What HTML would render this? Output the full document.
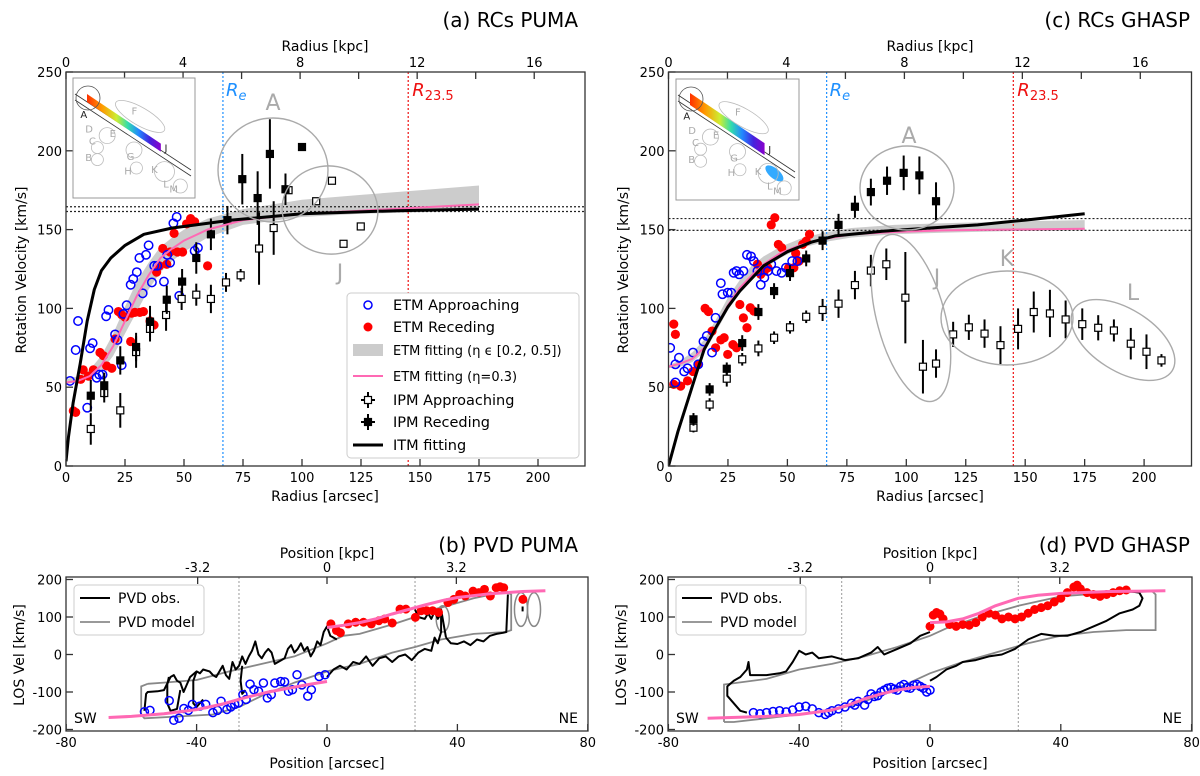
<!DOCTYPE html>
<html><head><meta charset="utf-8"><style>
html,body{margin:0;padding:0;background:#fff;}
svg{display:block;font-family:"DejaVu Sans","Liberation Sans",sans-serif;}
</style></head><body>
<svg id="fig" width="1200" height="776" viewBox="0 0 1200 776" xmlns="http://www.w3.org/2000/svg">
<defs>
<linearGradient id="rb" x1="0" y1="0" x2="1" y2="0">
<stop offset="0" stop-color="#ff3000"/><stop offset="0.2" stop-color="#ff9900"/><stop offset="0.4" stop-color="#ccee33"/><stop offset="0.55" stop-color="#33ddaa"/><stop offset="0.7" stop-color="#2288ff"/><stop offset="0.85" stop-color="#4422dd"/><stop offset="1" stop-color="#8800cc"/>
</linearGradient>
</defs>
<g id="layer"></g>
<text x="578" y="27" font-size="20" text-anchor="end">(a) RCs PUMA</text>
<text x="1190" y="27" font-size="20" text-anchor="end">(c) RCs GHASP</text>
<text x="578" y="552" font-size="20" text-anchor="end">(b) PVD PUMA</text>
<text x="1190" y="552" font-size="20" text-anchor="end">(d) PVD GHASP</text>
<text x="325" y="51" font-size="14" text-anchor="middle">Radius [kpc]</text>
<text x="930" y="51" font-size="14" text-anchor="middle">Radius [kpc]</text>
<text x="325" y="501" font-size="14" text-anchor="middle">Radius [arcsec]</text>
<text x="930" y="501" font-size="14" text-anchor="middle">Radius [arcsec]</text>
<text transform="translate(26,270) rotate(-90)" font-size="14" text-anchor="middle">Rotation Velocity [km/s]</text>
<text transform="translate(628,270) rotate(-90)" font-size="14" text-anchor="middle">Rotation Velocity [km/s]</text>
<text x="327" y="558" font-size="14" text-anchor="middle">Position [kpc]</text>
<text x="930" y="558" font-size="14" text-anchor="middle">Position [kpc]</text>
<text x="327" y="768" font-size="14" text-anchor="middle">Position [arcsec]</text>
<text x="930" y="768" font-size="14" text-anchor="middle">Position [arcsec]</text>
<text transform="translate(24,655) rotate(-90)" font-size="14" text-anchor="middle">LOS Vel [km/s]</text>
<text transform="translate(626,655) rotate(-90)" font-size="14" text-anchor="middle">LOS Vel [km/s]</text>
</svg>
<script>
// ---------- Panel (a) data ----------
const aRecR=[10.5,16.2,23,29.7,35.6,42.7,49.2,55.2,61.4,68.4,74.7,81.2,86.4,93,100];
const aRecV=[44.6,51.2,67,75.5,91.6,105.5,117,132,147,156,182,170,198,175.6,202.4];
const aRecE=[10,8,9,9,10,9,8,10,10,9,16,17,22,10,0];
const aAppR=[10.5,16.2,23,29.7,35.6,42.4,49,55.2,61.4,67.8,74,81.8,88,94.3,106,112.7,117.6,124.9];
const aAppV=[23.5,46.3,35.3,72.3,87,95.8,106,108.7,106,116.5,121,138,151,175,168,181,141,152];
const aAppE=[10,6,11,10,8,10,7,7,9,6,4,23,17,0,0,0,0,0];
const aEtmAppR=[1.7,4.1,5.1,9.0,10.2,11.3,13,14.1,15.5,17,18,20.8,21.8,23.6,24.3,25.7,27.4,28.5,30,31.1,32.5,33.9,35,36.4,37.4,38.7,41.5,42.9,44.1,45.5,46.9,48,54.5,55.9];
const aEtmAppV=[54,73.6,92,37,74.7,78,56,58,58,95,99,83.5,80,64,96.5,102,115,118.7,123,132,109.6,134,140,116.5,127,127,117,134,129,154,158,108,136.5,138.5];
const aEtmRecR=[3.1,4.1,6.2,7.3,9.5,11.6,14.4,15.8,17.2,19.4,20.8,22.2,23.6,25,27.4,27.8,29.2,31.3,32.8,35.6,37.3,38.4,39.6,41,42.7,44.1,45.8,47.2,49.4,51.1,52.8,54.5,60];
const aEtmRecV=[35,34,55,61,57,61,72,70,63.5,62,80.6,98,96,94.5,79,97,97.5,97.5,98,92,89.5,123,127,138,128,135.8,147.6,135.8,135.8,153.6,157,155,127];
const aItmR=[0,1,3,6,9,12,15,19,25,33,45,55,70,100,140,175];
const aItmV=[3,18,40,65,92,112,124,132,140,147,151,153,156,160,162,163];
const aFitR=[0,5,10,15,20,25,30,35,40,45,50,60,75,100,125,150,175];
const aFitV=[53,54,57,64,76,92,108,121,132,138,143,150,156,160,162,164,166];
const aBandHi=[55,57,61,70,84,101,117,129,139,145,150,157,163,169,172,175,178];
const aBandLo=[52,53,55,60,70,84,98,112,123,130,136,145,153,158,160,161,162];
const aHLines=[164.5,161.5];
// ---------- Panel (c) data ----------
const cRecR=[10.5,17.3,24.5,31,37.8,44.4,51.1,57.9,64.8,71.5,78.4,85.1,91.9,98.9,105.5,112.5];
const cRecV=[29.6,48.6,61.7,78,97.7,111,122.4,131.7,143,153,164.5,173.8,181,186,184.4,168];
const cRecE=[4,4,4,5,5,5,5,5,6,7,7,8.5,9,11,12,12];
const cAppR=[10.5,17.3,24.5,31,37.8,44.4,51.1,57.9,64.8,71.5,78.4,85.1,91.6,99.6,107,112.5,119.7,126.3,132.9,139.6,147,153.6,160.4,167,174,180.7,187.3,194.4,201,207.3];
const cAppV=[24.3,39,55.4,67.7,74.6,81.4,88,94.7,99,103,114.8,124,128,106.8,63,65,83.5,88,84,76.7,87,97.7,96.8,93,90,87.7,86,77.6,72.5,67];
const cAppE=[3,4,5,4,5,4,4,4,7,9,9,10,10,29,17,9,8,8,9,12,13,13,15,12,10,8,7,10,11,4];
const cEtmAppR=[0.7,2.9,4.4,6.6,8,10.3,12.5,14.7,16.1,18.3,19.8,22,22.7,24.9,26.4,27.4,28.6,29.7,31.5,33,34.7,35.9,37.4,38.8,40.3,41.8,43.2,45.4,47.6,49.4,52,54.2,2.9];
const cEtmAppV=[75,64.5,68.7,60,62,72,64.5,79,82.5,72,94,116,109,110,110,122.6,123.7,121.6,123.7,134,133,130,123.7,115,119.5,123.7,128,123.7,122.6,125.8,130,130,53];
const cEtmRecR=[2.2,2.9,2.2,5.1,8,10.3,12.5,15.4,16.8,18.3,19.8,22,23.4,24.9,27.1,28.6,30,31.5,33,34.4,35.9,37.4,38.8,40.3,41.8,43.2,44.7,46.2,47.6,50.5,52.7,54.9,56.4,57.9,59.3,53.5];
const cEtmRecV=[90,83.5,51.8,50.7,54,60,64.5,100,98,85.6,75,80,81.4,70.8,77,75,102.5,94,87.7,100.4,98.3,128,121.6,123.7,125.8,153,157.5,140.6,138.5,125.8,125.8,130,140.6,142.7,147,135];
const cItmR=[0,4,8,12,15,20,25,30,40,50,60,70,90,110,130,150,175];
const cItmV=[0,22,41,60,74,88,101,111,127,136,142,146,149,151,153,156,160];
const cFitR=[0,5,10,15,20,25,30,35,40,47,55,65,77,95,115,140,175];
const cFitV=[63,65,68,75,88,102,113,121,128,135,140,144,147,148.5,149.5,150,150.5];
const cBandHi=[64,67,72,80,93,107,118,127,133,139,144,148,151,153,154,155,156];
const cBandLo=[62,63,66,72,85,99,110,118,125,132,138,142,145,147,148,149,149.5];
const cHLines=[157,149.5];
// ---------- Panel (b) data ----------
const bAppP=[-56,-54.3,-48.4,-47,-45.4,-43.9,-42.5,-41.3,-39,-37.2,-35,-33.6,-32.5,-30.7,-29.5,-28.3,-27.1,-25.8,-24.8,-23.6,-22.4,-21,-19.5,-18.3,-17.1,-16,-14.2,-13,-11.8,-10.6,-9.2,-7.7,-5.9,-4.8,-2.4,-0.6];
const bAppV=[-152.6,-149,-123,-175.4,-170,-144,-149,-133,-137.7,-133,-155,-149,-124.6,-146.5,-140,-133,-129,-107,-120,-79,-94,-98,-76,-115.8,-107,-76,-72,-73,-98,-94,-54,-81,-111,-94,-58.7,-54];
const bRecP=[1.2,2.9,4.1,6.5,8.8,11.2,13.6,15.9,17.7,20,22.4,24.2,27.1,28.9,30.6,32.4,34.2,37.1,38.9,40.7,42.4,44.8,46.6,48.3,50.1,51.9,53.1,54.2,60.1];
const bRecV=[81.6,64,58,81.6,86,86,81.6,90,94.7,84,121,121,99,116.7,116.7,116.7,112,138.6,147,160.5,156,169,165,173.7,156,178,180.8,178,147];
const bFitAppP=[-67,-60,-50,-40,-32,-25,-18,-10,-5,0];
const bFitAppV=[-168,-165,-158,-147,-132,-115,-100,-87,-79,-72];
const bFitRecP=[0,5,10,15,20,25,30,36,40,50,60,67];
const bFitRecV=[72,78,85,95,108,120,132,145,152,162,168,170];
const bObs1P=[-56,-55.5,-55,-52,-50,-48,-47,-46,-45,-44,-42,-40,-39,-38,-36,-35,-34,-32,-31,-30,-29,-28,-27,-26,-25,-24,-23,-22,-21,-20,-19,-18,-17,-16,-15,-14,-13,-12,-11,-10,-9,-8,-7,-6,-5,-4,-3,-2,-1,0,1,2,3];
const bObs1V=[-150,-105,-100,-98,-95,-60,-55,-70,-75,-100,-60,-45,-50,-40,-45,-55,-60,-30,-55,-65,-20,-40,-30,-5,-25,-5,10,35,0,-10,5,15,5,-25,-20,-15,-10,15,25,5,15,30,10,20,-5,10,35,25,60,75,50,45,40];
const bObs2P=[-48.5,-49,-49,-48,-46,-45];
const bObs2V=[-60,-80,-130,-150,-145,-95];
const bObs3P=[-40,-41,-41,-40,-38];
const bObs3V=[-45,-70,-130,-140,-120];
const bObs4P=[-26,-26.5,-26,-25];
const bObs4V=[-30,-70,-105,-95];
const bObs5P=[0,2,4,6,8,10,12,14,16,18,20,22,24,26,28,30,32,33,34,35,35,36.5];
const bObs5V=[-60,-40,-30,-40,-20,-25,-5,-30,-10,-5,-20,-5,0,-15,5,15,10,45,30,60,120,45];
const bObs6P=[36.5,38,40,42,44,46,48,50,52,54,55,55.5];
const bObs6V=[45,30,28,35,25,40,35,50,55,58,60,160];
const bObs7P=[27,28,30,31,32,33,34,35];
const bObs7V=[120,100,95,110,95,115,95,110];
const bModP=[-55,-50,-40,-30,-20,-10,0,5,10,20,27,30,35,45,55,56.5,56.5,55,45,35,27,20,10,0,-10,-20,-27,-35,-45,-56,-57,-57,-55];
const bModV=[-78,-75,-68,-45,-25,-5,30,50,55,80,100,115,125,150,168,160,65,60,55,40,20,5,-25,-45,-75,-110,-140,-160,-165,-170,-160,-85,-78];
// ---------- Panel (d) data ----------
const dAppP=[-54,-52,-50,-48,-46,-44,-42,-40,-38,-36,-34,-32,-31,-30,-28,-26,-24,-23,-22,-20,-19,-18,-17,-16,-15,-14,-13,-12,-11,-10,-9,-8,-7,-6,-5,-4,-3,-2,-1,0];
const dAppV=[-155,-158,-155,-152,-150,-153,-148,-140,-138,-145,-155,-160,-155,-150,-145,-140,-130,-135,-125,-135,-120,-105,-112,-110,-100,-95,-90,-88,-92,-95,-85,-80,-88,-90,-82,-80,-85,-90,-100,-95];
const dRecP=[0,1,2,3,4,6,8,10,12,14,16,18,20,22,24,26,28,30,32,34,36,38,40,42,44,45,46,48,50,52,54,56,58,60];
const dRecV=[75,105,112,108,95,80,75,80,78,85,100,110,105,95,100,95,100,110,120,125,130,140,150,165,180,185,175,165,160,155,160,165,170,172];
const dFitAppP=[-68,-50,-40,-30,-25,-20,-15,-10,-5,0];
const dFitAppV=[-170,-165,-160,-148,-135,-118,-105,-95,-88,-85];
const dFitRecP=[0,5,10,15,20,27,33,40,55,72];
const dFitRecV=[85,87,95,110,130,150,158,163,168,170];
const dObs1P=[-56,-58,-60,-62,-62,-60,-58,-56,-55.5,-55,-50,-46,-44,-42,-40,-38,-36,-34,-30,-26,-22,-18,-16,-14,-10,-6,-3,0];
const dObs1V=[-155,-150,-130,-110,-85,-70,-60,-40,-20,-55,-55,-50,-45,-20,10,0,5,-10,-5,-15,-10,5,20,0,15,30,50,60];
const dObs2P=[0,2,5,8,10,14,18,22,26,30,34,38,42,46,50,54,58,62,64,65,64,60];
const dObs2V=[-70,-60,-40,-30,-20,-15,-5,0,15,40,55,50,50,60,75,90,110,120,130,150,165,170];
const dModP=[-63,-63,-50,-40,-30,-20,-10,0,5,15,27,40,55,68,69,69,60,50,40,30,20,10,0,-10,-20,-30,-45,-60,-63];
const dModV=[-180,-80,-65,-40,-25,-5,20,50,70,100,130,155,165,168,160,65,65,60,50,30,5,-20,-50,-90,-125,-150,-165,-180,-180];
// tick arrays
const rTicks=[0,25,50,75,100,125,150,175,200];
const vTicks=[0,50,100,150,200,250];
const kpcTicks=[0,2,4,6,8,10,12,14,16,18];
const kpcLabels=['0','','4','','8','','12','','16',''];
const pTicks=[-80,-40,0,40,80];
const lvTicks=[-200,-100,0,100,200];
const pKpcTicks=[-3.2,0,3.2];
const RE=66.5, R235=145, ARCSEC_PER_KPC=12.4, PV_ARCSEC_PER_KPC=12.4;

const NS='http://www.w3.org/2000/svg';
const L=document.getElementById('layer');
function mk(tag,attrs,parent){const e=document.createElementNS(NS,tag);for(const k in attrs)e.setAttribute(k,attrs[k]);(parent||L).appendChild(e);return e;}
function pts(xs,ys,sx,sy){return xs.map((x,i)=>sx(x).toFixed(1)+','+sy(ys[i]).toFixed(1)).join(' ');}

const PA={x0:66,x1:585,y0:72,y1:466,sx:r=>66+2.36*r,sy:v=>466-1.576*v};
const PC={x0:668.5,x1:1191.5,y0:72,y1:466,sx:r=>668.5+2.378*r,sy:v=>466-1.576*v};
const PB={x0:66,x1:588,y0:577,y1:731,sx:p=>327+3.26*p,sy:v=>654.5-0.375*v};
const PD={x0:668,x1:1192,y0:577,y1:731,sx:p=>930+3.27*p,sy:v=>654.5-0.375*v};

function clip(id,P){const cp=mk('clipPath',{id:id});mk('rect',{x:P.x0,y:P.y0,width:P.x1-P.x0,height:P.y1-P.y0},cp);return 'url(#'+id+')';}

function rcPanel(P,tag,d){
  const g=mk('g',{'clip-path':clip('clip'+tag,P)});
  
  
  const band=mk('polygon',{points:pts(d.fitR,d.hi,P.sx,P.sy)+' '+pts(d.fitR.slice().reverse(),d.lo.slice().reverse(),P.sx,P.sy),fill:'#cccccc',stroke:'none'},g);
  
  
  d.hl.forEach(v=>{const l=mk('line',{x1:P.x0,x2:P.x1,y1:P.sy(v),y2:P.sy(v),stroke:'#222','stroke-width':1.2,'stroke-dasharray':'2,2'},g);
    
    });
  const lr=mk('line',{x1:P.sx(RE),x2:P.sx(RE),y1:P.y0,y2:P.y1,stroke:'#1e90ff','stroke-width':1.2,'stroke-dasharray':'2,2'},g);
  
  
  const lr2=mk('line',{x1:P.sx(R235),x2:P.sx(R235),y1:P.y0,y2:P.y1,stroke:'#ee1111','stroke-width':1.2,'stroke-dasharray':'2,2'},g);
  
  
  d.er.forEach((r,i)=>{const c=mk('circle',{cx:P.sx(r),cy:P.sy(d.ev[i]),r:4.6,fill:'#ff0000'},g);
    
    });
  d.ea.forEach((r,i)=>{const c=mk('circle',{cx:P.sx(r),cy:P.sy(d.eav[i]),r:4.2,fill:'none',stroke:'#0000ff','stroke-width':1.5},g);
    
    });
  function ipm(R,V,E,filled,nm){R.forEach((r,i)=>{const x=P.sx(r),y=P.sy(V[i]);
    if(E[i]>0){const e=mk('line',{x1:x,x2:x,y1:P.sy(V[i]-E[i]),y2:P.sy(V[i]+E[i]),stroke:'#000','stroke-width':2},g);
      
      }
    const s=mk('rect',{x:x-3.5,y:y-3.5,width:7,height:7,fill:filled?'#000':'#fff',stroke:'#000','stroke-width':1.2},g);
    
    });}
  ipm(d.ar,d.av,d.ae,false,'ipm-approaching');
  ipm(d.rr,d.rv,d.re,true,'ipm-receding');
  const pk=mk('polyline',{points:pts(d.fitR,d.fitV,P.sx,P.sy),fill:'none',stroke:'#ff69b4','stroke-width':2},g);
  
  
  const it=mk('polyline',{points:pts(d.itR,d.itV,P.sx,P.sy),fill:'none',stroke:'#000','stroke-width':3,'stroke-linejoin':'round'},g);
  
  
  const fr=mk('rect',{x:P.x0,y:P.y0,width:P.x1-P.x0,height:P.y1-P.y0,fill:'none',stroke:'#333','stroke-width':1.3});
  
  
  rTicks.forEach(t=>{const x=P.sx(t);const tk=mk('line',{x1:x,x2:x,y1:P.y1,y2:P.y1-7,stroke:'#333','stroke-width':1.3});
    
    
    const tl=mk('text',{x:x,y:P.y1+16,'font-size':13,'text-anchor':'middle'});tl.textContent=t;
    
    });
  vTicks.forEach(t=>{const y=P.sy(t);const tk=mk('line',{x1:P.x0,x2:P.x0+7,y1:y,y2:y,stroke:'#333','stroke-width':1.3});
    
    
    const tl=mk('text',{x:P.x0-4,y:y+5,'font-size':13,'text-anchor':'end'});tl.textContent=t;
    
    });
  kpcTicks.forEach((k,i)=>{const x=P.sx(k*ARCSEC_PER_KPC);if(x>P.x1)return;
    const tk=mk('line',{x1:x,x2:x,y1:P.y0,y2:P.y0+7,stroke:'#333','stroke-width':1.3});
    
    
    if(kpcLabels[i]){const tl=mk('text',{x:x,y:P.y0-5,'font-size':13,'text-anchor':'middle'});tl.textContent=kpcLabels[i];
      
      }});
  const t1=mk('text',{x:P.sx(RE)+3,y:P.y0+24,'font-size':18,fill:'#1e90ff'});t1.innerHTML='<tspan font-style="italic">R</tspan><tspan font-size="13" font-style="italic" dy="4">e</tspan>';
  
  
  const t2=mk('text',{x:P.sx(R235)+4,y:P.y0+24,'font-size':18,fill:'#ee1111'});t2.innerHTML='<tspan font-style="italic">R</tspan><tspan font-size="13" dy="4">23.5</tspan>';
  
  
}

rcPanel(PA,'a',{fitR:aFitR,fitV:aFitV,hi:aBandHi,lo:aBandLo,hl:aHLines,er:aEtmRecR,ev:aEtmRecV,ea:aEtmAppR,eav:aEtmAppV,ar:aAppR,av:aAppV,ae:aAppE,rr:aRecR,rv:aRecV,re:aRecE,itR:aItmR,itV:aItmV});
rcPanel(PC,'c',{fitR:cFitR,fitV:cFitV,hi:cBandHi,lo:cBandLo,hl:cHLines,er:cEtmRecR,ev:cEtmRecV,ea:cEtmAppR,eav:cEtmAppV,ar:cAppR,av:cAppV,ae:cAppE,rr:cRecR,rv:cRecV,re:cRecE,itR:cItmR,itV:cItmV});

function ell(cx,cy,rx,ry,rot,label,lx,ly,nm){
  const e=mk('ellipse',{cx:cx,cy:cy,rx:rx,ry:ry,fill:'none',stroke:'#aaaaaa','stroke-width':1.4,transform:'rotate('+rot+' '+cx+' '+cy+')'});
  
  
  const t=mk('text',{x:lx,y:ly,'font-size':22,fill:'#aaaaaa','text-anchor':'middle'});t.textContent=label;
  
  
}
ell(273,170,55,52,0,'A',273,110,'a-A');
ell(330,210,48,44,10,'J',340,280,'a-J');
ell(907,188,47,42,0,'A',909,143,'c-A');
ell(911,318,34,86,-15,'J',937,285,'c-J');
ell(1007,318,66,47,0,'K',1007,266,'c-K');
ell(1123,340,58,31,32,'L',1133,300,'c-L');

function inset(x,y,w,h,nm,dense){
  const g=mk('g',{});
  
  
  mk('rect',{x:x,y:y,width:w,height:h,fill:'#fff',stroke:'#999','stroke-width':1},g);
  mk('line',{x1:x+2,y1:y+22,x2:x+w-4,y2:y+h-22,stroke:'#333','stroke-width':0.8},g);
  mk('line',{x1:x+2,y1:y+16,x2:x+w-4,y2:y+h-28,stroke:'#333','stroke-width':0.8},g);
  const bw=dense?6:4;
  mk('polygon',{points:(x+14)+','+(y+20-bw)+' '+(x+w*0.72)+','+(y+h*0.58-bw)+' '+(x+w*0.72)+','+(y+h*0.58+bw)+' '+(x+14)+','+(y+20+bw),fill:'url(#rb)'},g);
  if(dense){mk('ellipse',{cx:x+w*0.8,cy:y+h*0.78,rx:11,ry:5,fill:'#33aaff',transform:'rotate(40 '+(x+w*0.8)+' '+(y+h*0.78)+')'},g);}
  mk('circle',{cx:x+15,cy:y+20,r:12,fill:'none',stroke:'#555','stroke-width':0.8},g);
  [[0.28,0.48,8],[0.2,0.58,6],[0.2,0.68,6],[0.5,0.6,8],[0.52,0.75,6],[0.75,0.78,10],[0.88,0.9,7]].forEach(c=>mk('circle',{cx:x+w*c[0],cy:y+h*c[1],r:c[2],fill:'none',stroke:'#bbb','stroke-width':0.8},g));
  mk('ellipse',{cx:x+w*0.55,cy:y+h*0.32,rx:28,ry:9,fill:'none',stroke:'#bbb','stroke-width':0.8,transform:'rotate(30 '+(x+w*0.55)+' '+(y+h*0.32)+')'},g);
  [['A',0.06,0.3,'#222'],['D',0.1,0.42,'#aaa'],['E',0.3,0.46,'#aaa'],['C',0.13,0.52,'#aaa'],['B',0.1,0.66,'#aaa'],['F',0.48,0.27,'#aaa'],['G',0.44,0.65,'#aaa'],['H',0.42,0.77,'#aaa'],['J',0.75,0.58,'#222'],['K',0.64,0.76,'#aaa'],['L',0.74,0.88,'#aaa'],['M',0.79,0.92,'#aaa']].forEach(a=>{
    const t=mk('text',{x:x+w*a[1],y:y+h*a[2]+4,'font-size':10,fill:a[3]},g);t.textContent=a[0];});
}
inset(73,78,122,120,'a',false);
inset(676,79,123,121,'c',true);

(function(){
  const g=mk('g',{});
  
  
  mk('rect',{x:347,y:293,width:232,height:165,rx:4,fill:'#fff',stroke:'#cccccc','stroke-width':1},g);
  const ys=[305,327,350,376,400,422,445];
  const labels=['ETM Approaching','ETM Receding','ETM fitting (\u03b7 \u03f5 [0.2, 0.5])','ETM fitting (\u03b7=0.3)','IPM Approaching','IPM Receding','ITM fitting'];
  mk('circle',{cx:368,cy:ys[0],r:4,fill:'none',stroke:'#00f','stroke-width':1.5},g);
  mk('circle',{cx:368,cy:ys[1],r:4.5,fill:'#f00'},g);
  mk('rect',{x:353,y:ys[2]-6,width:30,height:12,fill:'#ccc'},g);
  mk('line',{x1:353,x2:383,y1:ys[3],y2:ys[3],stroke:'#ff69b4','stroke-width':2},g);
  [4,5].forEach(i=>{mk('line',{x1:368,x2:368,y1:ys[i]-8,y2:ys[i]+8,stroke:'#000','stroke-width':2},g);mk('line',{x1:361,x2:375,y1:ys[i],y2:ys[i],stroke:'#000','stroke-width':2},g);
    mk('rect',{x:364.5,y:ys[i]-3.5,width:7,height:7,fill:i==4?'#fff':'#000',stroke:'#000','stroke-width':1.2},g);});
  mk('line',{x1:353,x2:383,y1:ys[6],y2:ys[6],stroke:'#000','stroke-width':3},g);
  labels.forEach((s,i)=>{const t=mk('text',{x:393,y:ys[i]+5,'font-size':i==2||i==3?13:14.5},g);t.textContent=s;
    
    });
})();

function pvPanel(P,tag,d){
  const g=mk('g',{'clip-path':clip('clip'+tag,P)});
  
  
  [-27,27].forEach(p=>{const l=mk('line',{x1:P.sx(p),x2:P.sx(p),y1:P.y0,y2:P.y1,stroke:'#999','stroke-width':1,'stroke-dasharray':'2,2'},g);
    
    });
  const m=mk('polyline',{points:pts(d.modP,d.modV,P.sx,P.sy),fill:'none',stroke:'#888','stroke-width':1.8},g);
  
  
  (d.extra||[]).forEach(f=>f(g));
  d.obs.forEach(o=>{const l=mk('polyline',{points:pts(o[0],o[1],P.sx,P.sy),fill:'none',stroke:'#000','stroke-width':2,'stroke-linejoin':'round'},g);
    
    });
  d.rp.forEach((p,i)=>{const c=mk('circle',{cx:P.sx(p),cy:P.sy(d.rv[i]),r:4.5,fill:'#f00'},g);
    
    });
  d.ap.forEach((p,i)=>{const c=mk('circle',{cx:P.sx(p),cy:P.sy(d.av[i]),r:4,fill:'none',stroke:'#00f','stroke-width':1.5},g);
    
    });
  [[d.faP,d.faV],[d.frP,d.frV]].forEach(f=>{const l=mk('polyline',{points:pts(f[0],f[1],P.sx,P.sy),fill:'none',stroke:'#ff69b4','stroke-width':3},g);
    
    });
  const fr=mk('rect',{x:P.x0,y:P.y0,width:P.x1-P.x0,height:P.y1-P.y0,fill:'none',stroke:'#333','stroke-width':1.3});
  
  
  pTicks.forEach(t=>{const x=P.sx(t);const tk=mk('line',{x1:x,x2:x,y1:P.y1,y2:P.y1-7,stroke:'#333','stroke-width':1.3});
    
    
    const tl=mk('text',{x:x,y:P.y1+16,'font-size':13,'text-anchor':'middle'});tl.textContent=t;
    
    });
  lvTicks.forEach(t=>{const y=P.sy(t);const tk=mk('line',{x1:P.x0,x2:P.x0+7,y1:y,y2:y,stroke:'#333','stroke-width':1.3});
    
    
    const tl=mk('text',{x:P.x0-4,y:y+5,'font-size':13,'text-anchor':'end'});tl.textContent=t;
    
    });
  pKpcTicks.forEach(k=>{const x=P.sx(k*PV_ARCSEC_PER_KPC);const tk=mk('line',{x1:x,x2:x,y1:P.y0,y2:P.y0+7,stroke:'#333','stroke-width':1.3});
    
    
    const tl=mk('text',{x:x,y:P.y0-5,'font-size':13,'text-anchor':'middle'});tl.textContent=k;
    
    });
  const sw=mk('text',{x:P.x0+8,y:P.y1-8,'font-size':14});sw.textContent='SW';
  
  
  const ne=mk('text',{x:P.x1-10,y:P.y1-8,'font-size':14,'text-anchor':'end'});ne.textContent='NE';
  
  
  const lg=mk('g',{});
  
  
  mk('rect',{x:P.x0+8,y:P.y0+8,width:130,height:50,rx:4,fill:'#fff',stroke:'#ccc','stroke-width':1},lg);
  mk('line',{x1:P.x0+14,x2:P.x0+44,y1:P.y0+21,y2:P.y0+21,stroke:'#000','stroke-width':2},lg);
  mk('line',{x1:P.x0+14,x2:P.x0+44,y1:P.y0+45,y2:P.y0+45,stroke:'#999','stroke-width':2},lg);
  const a=mk('text',{x:P.x0+52,y:P.y0+26,'font-size':14},lg);a.textContent='PVD obs.';
  
  
  const b=mk('text',{x:P.x0+52,y:P.y0+50,'font-size':14},lg);b.textContent='PVD model';
  
  
}
pvPanel(PB,'b',{modP:bModP,modV:bModV,obs:[[bObs1P,bObs1V],[bObs2P,bObs2V],[bObs3P,bObs3V],[bObs4P,bObs4V],[bObs5P,bObs5V],[bObs6P,bObs6V],[bObs7P,bObs7V],[[60,60],[115,128]]],
  rp:bRecP,rv:bRecV,ap:bAppP,av:bAppV,faP:bFitAppP,faV:bFitAppV,frP:bFitRecP,frV:bFitRecV,
  extra:[g=>{[[35.5,95,2,35],[59.5,120,2,45],[63.5,120,2,45]].forEach(e=>{mk('ellipse',{cx:PB.sx(e[0]),cy:PB.sy(e[1]),rx:e[2]*3.26,ry:e[3]*0.375,fill:'none',stroke:'#888','stroke-width':1.5},g);});}]});
pvPanel(PD,'d',{modP:dModP,modV:dModV,obs:[[dObs1P,dObs1V],[dObs2P,dObs2V]],
  rp:dRecP,rv:dRecV,ap:dAppP,av:dAppV,faP:dFitAppP,faV:dFitAppV,frP:dFitRecP,frV:dFitRecV});
</script>
</body></html>
